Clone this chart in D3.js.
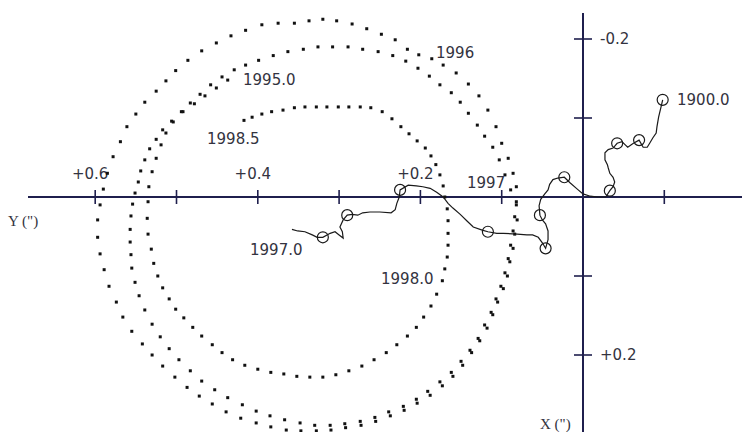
<!DOCTYPE html>
<html><head><meta charset="utf-8">
<script src="https://cdn.jsdelivr.net/npm/d3@7"></script>
<style>html,body{margin:0;padding:0;background:#fff;overflow:hidden}</style>
</head><body><svg id="c" width="742" height="432"></svg>
<script>
// ---- Data (arcseconds). Y positive to the left, X positive downward ----
// Pole path 1995.0 -> 1996.0
const seg1995Y = [0.437,0.451,0.465,0.478,0.492,0.506,0.517,0.525,0.533,0.539,0.544,0.547,0.551,0.554,0.556,0.557,0.557,0.556,0.555,0.551,0.546,0.539,0.530,0.520,0.509,0.497,0.483,0.469,0.453,0.437,0.419,0.402,0.385,0.367,0.348,0.330,0.311,0.293,0.274,0.256,0.239,0.221,0.205,0.191,0.176,0.162,0.150,0.139,0.129,0.121,0.113,0.107,0.101,0.096,0.092,0.089,0.086,0.084,0.082,0.082,0.086,0.092,0.100,0.107,0.117,0.128,0.141,0.156,0.172,0.186];
const seg1995X = [-0.148,-0.138,-0.128,-0.118,-0.108,-0.096,-0.085,-0.073,-0.061,-0.047,-0.033,-0.019,-0.005,0.009,0.024,0.041,0.057,0.073,0.090,0.108,0.125,0.143,0.161,0.177,0.192,0.206,0.220,0.233,0.244,0.254,0.263,0.271,0.277,0.282,0.286,0.289,0.289,0.287,0.284,0.279,0.272,0.265,0.256,0.246,0.234,0.222,0.208,0.194,0.179,0.162,0.146,0.129,0.113,0.096,0.078,0.061,0.043,0.025,0.006,-0.013,-0.030,-0.049,-0.068,-0.089,-0.110,-0.128,-0.143,-0.157,-0.167,-0.175];
// 1996.0 -> 1997.0
const seg1996Y = [0.202,0.216,0.231,0.248,0.266,0.284,0.303,0.320,0.337,0.355,0.375,0.395,0.415,0.433,0.451,0.469,0.486,0.501,0.513,0.525,0.539,0.550,0.561,0.569,0.578,0.585,0.590,0.594,0.597,0.597,0.594,0.589,0.583,0.574,0.566,0.555,0.542,0.530,0.517,0.502,0.487,0.472,0.456,0.439,0.421,0.402,0.384,0.365,0.347,0.328,0.310,0.292,0.273,0.255,0.237,0.220,0.204,0.188,0.173,0.160,0.148,0.137,0.127,0.118,0.111,0.105,0.098,0.093,0.090,0.086,0.084,0.081,0.082,0.089];
const seg1996X = [-0.180,-0.187,-0.199,-0.206,-0.213,-0.219,-0.223,-0.225,-0.223,-0.220,-0.220,-0.218,-0.211,-0.204,-0.195,-0.185,-0.173,-0.160,-0.147,-0.134,-0.120,-0.105,-0.089,-0.070,-0.051,-0.030,-0.010,0.010,0.029,0.051,0.072,0.092,0.113,0.133,0.152,0.170,0.186,0.200,0.214,0.228,0.241,0.252,0.262,0.272,0.280,0.286,0.291,0.295,0.296,0.296,0.295,0.292,0.289,0.284,0.277,0.270,0.261,0.251,0.239,0.227,0.213,0.197,0.182,0.166,0.149,0.133,0.116,0.100,0.082,0.065,0.047,0.029,0.010,-0.009];
// 1997.0 -> 1998.0
const seg1997Y = [0.096,0.103,0.111,0.121,0.130,0.141,0.151,0.162,0.176,0.189,0.203,0.218,0.234,0.252,0.271,0.289,0.308,0.326,0.344,0.363,0.381,0.399,0.415,0.429,0.444,0.458,0.471,0.483,0.494,0.504,0.513,0.519,0.525,0.530,0.534,0.535,0.536,0.535,0.531,0.528,0.523,0.517,0.509,0.501,0.491,0.480,0.469,0.456,0.444,0.431,0.416,0.400,0.384,0.368,0.352,0.336,0.320,0.304,0.288,0.272,0.257,0.242,0.229,0.216,0.205,0.196,0.187,0.180,0.173];
const seg1997X = [-0.028,-0.047,-0.063,-0.077,-0.091,-0.106,-0.120,-0.132,-0.142,-0.153,-0.163,-0.172,-0.179,-0.184,-0.187,-0.190,-0.190,-0.190,-0.187,-0.184,-0.179,-0.173,-0.167,-0.161,-0.152,-0.142,-0.130,-0.119,-0.108,-0.095,-0.081,-0.066,-0.049,-0.032,-0.013,0.006,0.027,0.047,0.066,0.084,0.100,0.115,0.129,0.142,0.153,0.165,0.176,0.187,0.197,0.206,0.213,0.218,0.222,0.224,0.227,0.228,0.228,0.225,0.220,0.214,0.206,0.197,0.187,0.176,0.165,0.152,0.138,0.123,0.106];
// 1998.0 -> 1998.5
const seg1998Y = [0.170,0.167,0.166,0.166,0.166,0.167,0.170,0.172,0.176,0.181,0.187,0.194,0.204,0.214,0.224,0.235,0.247,0.261,0.274,0.288,0.301,0.315,0.328,0.342,0.355,0.369,0.383,0.395,0.407,0.417];
const seg1998X = [0.091,0.076,0.061,0.046,0.030,0.015,0.000,-0.014,-0.028,-0.041,-0.052,-0.062,-0.071,-0.080,-0.089,-0.099,-0.108,-0.113,-0.114,-0.114,-0.114,-0.114,-0.114,-0.114,-0.113,-0.110,-0.108,-0.105,-0.101,-0.097];

// Mean pole drift 1900.0 -> 1997.0
const meanPoleY = [-0.098,-0.096,-0.093,-0.091,-0.090,-0.086,-0.082,-0.079,-0.074,-0.069,-0.062,-0.055,-0.052,-0.048,-0.042,-0.037,-0.031,-0.027,-0.027,-0.030,-0.031,-0.033,-0.037,-0.039,-0.037,-0.033,-0.028,-0.018,-0.009,0.000,0.007,0.016,0.023,0.031,0.037,0.041,0.043,0.047,0.052,0.054,0.053,0.050,0.046,0.043,0.043,0.046,0.050,0.055,0.062,0.069,0.081,0.098,0.106,0.117,0.124,0.135,0.143,0.151,0.160,0.166,0.172,0.180,0.188,0.197,0.205,0.215,0.225,0.226,0.229,0.231,0.236,0.250,0.262,0.271,0.277,0.284,0.290,0.295,0.299,0.296,0.295,0.300,0.305,0.311,0.320,0.327,0.333,0.342,0.351,0.358];
const meanPoleX = [-0.123,-0.114,-0.101,-0.089,-0.081,-0.075,-0.068,-0.063,-0.063,-0.072,-0.068,-0.063,-0.066,-0.070,-0.068,-0.062,-0.060,-0.056,-0.047,-0.041,-0.037,-0.030,-0.025,-0.019,-0.013,-0.008,0.000,0.000,-0.001,-0.004,-0.010,-0.018,-0.025,-0.024,-0.022,-0.016,-0.009,-0.004,0.003,0.011,0.023,0.029,0.034,0.043,0.054,0.065,0.058,0.051,0.048,0.048,0.047,0.046,0.046,0.044,0.042,0.038,0.030,0.022,0.014,0.008,0.000,-0.006,-0.011,-0.013,-0.014,-0.015,-0.009,0.000,0.008,0.016,0.020,0.019,0.019,0.020,0.023,0.022,0.023,0.029,0.038,0.044,0.052,0.048,0.044,0.046,0.051,0.051,0.048,0.044,0.043,0.041];
const markerY = [-0.098,-0.069,-0.042,-0.033,0.023,0.053,0.046,0.117,0.225,0.290,0.320];
const markerX = [-0.123,-0.072,-0.068,-0.008,-0.025,0.023,0.065,0.044,-0.009,0.023,0.051];

// Axis ticks and labels
const yAxisTicks = [0.6,0.5,0.4,0.3,0.2,0.1,-0.1];
const yAxisLabelVals = [0.6,0.4,0.2];
const yAxisLabels = ["+0.6","+0.4","+0.2"];
const xAxisTicks = [-0.2,-0.1,0.1,0.2];
const xAxisLabelVals = [-0.2,0.2];
const xAxisLabels = ["-0.2","+0.2"];

// Epoch labels
const epochTexts = ["1995.0","1996","1998.5","1997","1997.0","1998.0","1900.0"];

// ---- Drawing ----
const svg = d3.select("#c");
const sx = d3.scaleLinear().domain([0,0.6]).range([583,95.2]);   // Y (")
const sy = d3.scaleLinear().domain([-0.2,0.2]).range([39,355]);   // X (")

const axisCol = "#1f1f4d", inkCol = "#1a1a1a", txtCol = "#333340";
const font = "'DejaVu Sans', sans-serif";

// axes
svg.append("line").attr("x1",28).attr("x2",742).attr("y1",sy(0)).attr("y2",sy(0))
  .attr("stroke",axisCol).attr("stroke-width",2);
svg.append("line").attr("x1",sx(0)).attr("x2",sx(0)).attr("y1",13).attr("y2",432)
  .attr("stroke",axisCol).attr("stroke-width",2);
svg.selectAll(".ht").data(yAxisTicks).enter().append("line")
  .attr("x1",d=>sx(d)).attr("x2",d=>sx(d)).attr("y1",sy(0)-7).attr("y2",sy(0)+7)
  .attr("stroke",axisCol).attr("stroke-width",1.6);
svg.selectAll(".vt").data(xAxisTicks).enter().append("line")
  .attr("x1",sx(0)-9).attr("x2",sx(0)+9).attr("y1",d=>sy(d)).attr("y2",d=>sy(d))
  .attr("stroke",axisCol).attr("stroke-width",1.6);

svg.selectAll(".hl").data(yAxisLabelVals).enter().append("text")
  .attr("x",d=>sx(d)-5).attr("y",sy(0)-18).attr("text-anchor","middle")
  .attr("font-family",font).attr("font-size",15).attr("fill",txtCol)
  .text((d,i)=>yAxisLabels[i]);
svg.selectAll(".vl").data(xAxisLabelVals).enter().append("text")
  .attr("x",sx(0)+17).attr("y",d=>sy(d)+5)
  .attr("font-family",font).attr("font-size",15).attr("fill",txtCol)
  .text((d,i)=>xAxisLabels[i]);

svg.append("text").attr("x",8).attr("y",226).attr("font-family","'Liberation Serif', serif")
  .attr("font-size",15).attr("fill",txtCol).text("Y (\")");
svg.append("text").attr("x",540).attr("y",429).attr("font-family","'Liberation Serif', serif")
  .attr("font-size",15).attr("fill",txtCol).text("X (\")");

// dotted pole path
const segs = [[seg1995Y,seg1995X],[seg1996Y,seg1996X],[seg1997Y,seg1997X],[seg1998Y,seg1998X]];
segs.forEach(([Ys,Xs])=>{
  svg.append("g").selectAll("rect").data(Ys).enter().append("rect")
    .attr("x",(d)=>sx(d)-1.5).attr("y",(d,i)=>sy(Xs[i])-1.5)
    .attr("width",3).attr("height",3).attr("fill","#111");
});

// mean pole drift line
const pts = meanPoleY.map((v,i)=>[v,meanPoleX[i]]);
svg.append("path").datum(pts)
  .attr("d",d3.line().x(d=>sx(d[0])).y(d=>sy(d[1])))
  .attr("fill","none").attr("stroke",inkCol).attr("stroke-width",1.2);
svg.selectAll(".mk").data(markerY).enter().append("circle")
  .attr("cx",d=>sx(d)).attr("cy",(d,i)=>sy(markerX[i])).attr("r",5.5)
  .attr("fill","none").attr("stroke",inkCol).attr("stroke-width",1.2);

// epoch labels
const epochPos = [[243,85],[436,58],[207,144],[467,188],[250,255],[381,284],[677,105]];
svg.selectAll(".ep").data(epochTexts).enter().append("text")
  .attr("x",(d,i)=>epochPos[i][0]).attr("y",(d,i)=>epochPos[i][1])
  .attr("font-family",font).attr("font-size",15).attr("fill",txtCol)
  .text(d=>d);
</script></body></html>
